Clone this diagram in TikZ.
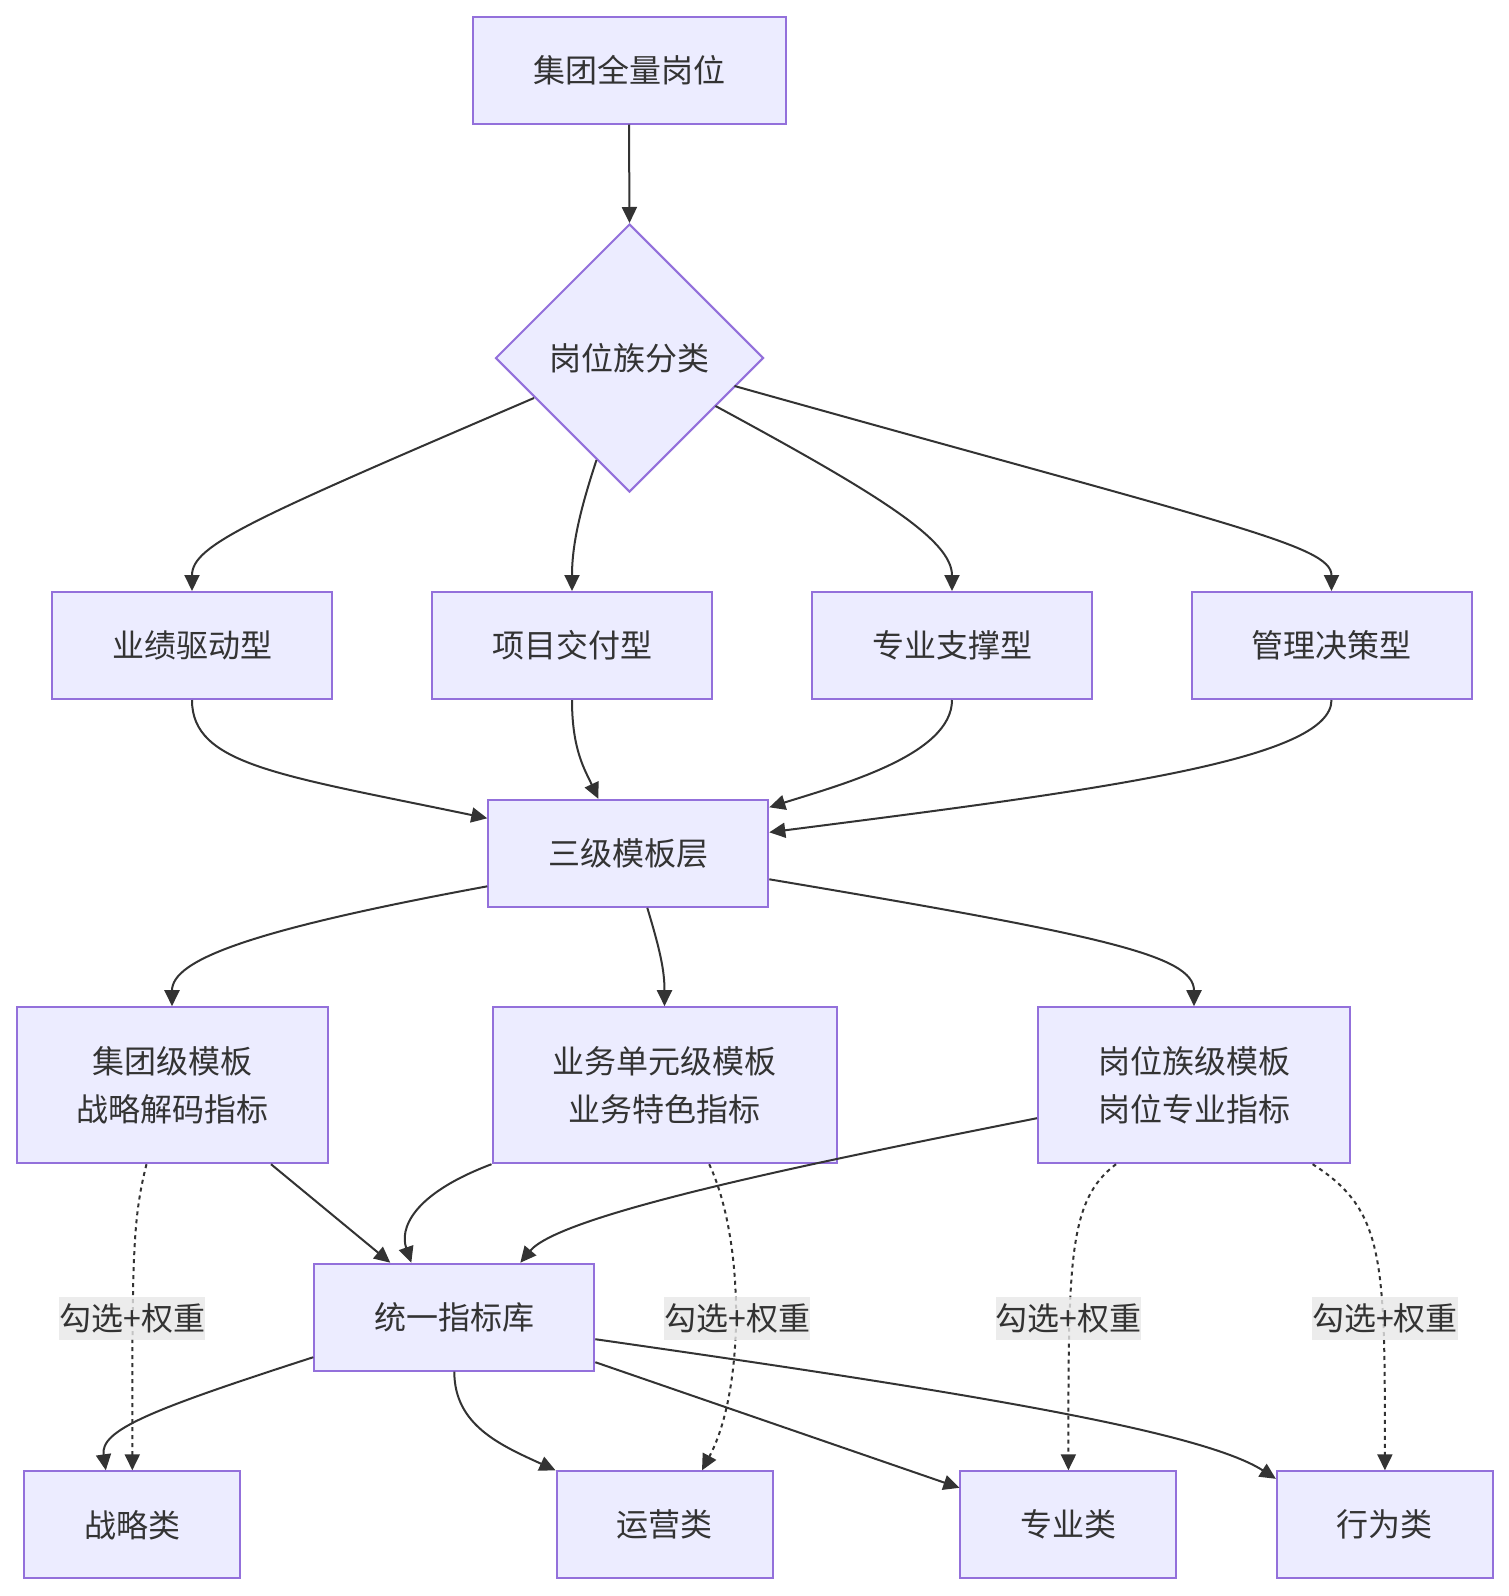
\documentclass[tikz,border=0pt]{standalone}
\usepackage{fontspec}
\setmainfont{Noto Sans CJK SC}
\usetikzlibrary{arrows.meta,shapes.geometric}
\definecolor{nodefill}{HTML}{ECECFF}
\definecolor{nodeline}{HTML}{9370DB}
\definecolor{edgecol}{HTML}{333333}
\definecolor{lblbg}{HTML}{E8E8E8}
\begin{document}
\begin{tikzpicture}[x=1pt,y=-1pt,
  box/.style={draw=nodeline, fill=nodefill, line width=2pt, text=edgecol,
    font=\fontsize{32}{48}\selectfont, align=center, inner sep=0pt, minimum height=107pt},
  tallbox/.style={box, minimum height=156pt},
  dia/.style={diamond, aspect=1, draw=nodeline, fill=nodefill, line width=2pt, text=edgecol,
    font=\fontsize{32}{48}\selectfont, inner sep=0pt, minimum width=268pt, minimum height=268pt},
  edge/.style={draw=edgecol, line width=2pt, -{Triangle[length=16pt,width=15pt]}},
  dedge/.style={edge, dash pattern=on 4pt off 4pt},
  lbl/.style={fill=lblbg, fill opacity=0.8, text opacity=1, text=edgecol,
    font=\fontsize{32}{48}\selectfont, inner xsep=0pt, inner ysep=0pt, minimum height=43pt}
]
\fill[white] (0,0) rectangle (1508,1596);
\useasboundingbox (0,0) rectangle (1508,1596);

% nodes
\node[box, minimum width=313pt] (top) at (629,70) {集团全量岗位};
\node[dia] (cls) at (629.5,358) {岗位族分类};
\node[box, minimum width=280pt] (r1) at (192,645.5) {业绩驱动型};
\node[box, minimum width=280pt] (r2) at (572,645.5) {项目交付型};
\node[box, minimum width=280pt] (r3) at (952,645.5) {专业支撑型};
\node[box, minimum width=280pt] (r4) at (1331.5,645.5) {管理决策型};
\node[box, minimum width=280pt] (tpl) at (628.3,853.3) {三级模板层};
\node[tallbox, minimum width=311pt] (g1) at (172,1085.2) {集团级模板\\战略解码指标};
\node[tallbox, minimum width=344pt] (g2) at (664.5,1085.2) {业务单元级模板\\业务特色指标};
\node[tallbox, minimum width=312pt] (g3) at (1194,1085.2) {岗位族级模板\\岗位专业指标};
\node[box, minimum width=280pt] (lib) at (454.3,1317.2) {统一指标库};
\node[box, minimum width=216pt] (c1) at (132.3,1524.8) {战略类};
\node[box, minimum width=216pt] (c2) at (664.5,1524.8) {运营类};
\node[box, minimum width=216pt] (c3) at (1068.4,1524.8) {专业类};
\node[box, minimum width=216pt] (c4) at (1384.9,1524.8) {行为类};

% edges
\draw[edge] (top.south) -- (cls.north);
\draw[edge] ([xshift=-95.5pt,yshift=-40pt]cls.center) .. controls (250,520) and (192,545) .. (r1.north);
\draw[edge] ([xshift=-33pt,yshift=-102pt]cls.center) .. controls (580,510) and (572,545) .. (r2.north);
\draw[edge] ([xshift=86pt,yshift=-48pt]cls.center) .. controls (880,495) and (952,540) .. (r3.north);
\draw[edge] ([xshift=105pt,yshift=-28pt]cls.center) .. controls (1230,525) and (1331.5,545) .. (r4.north);

\draw[edge] (r1.south) .. controls (192,765) and (280,775) .. ([yshift=35pt]tpl.west);
\draw[edge] (r2.south) .. controls (572,750) and (585,770) .. ([xshift=-30pt]tpl.north);
\draw[edge] (r3.south) .. controls (952,755) and (840,785) .. ([yshift=46pt]tpl.east);
\draw[edge] (r4.south) .. controls (1331.5,760) and (1100,790) .. ([yshift=21pt]tpl.east);

\draw[edge] ([yshift=-33pt]tpl.west) .. controls (250,930) and (172,960) .. (g1.north);
\draw[edge] ([xshift=19pt]tpl.south) .. controls (660,950) and (664.5,970) .. (g2.north);
\draw[edge] ([yshift=-26pt]tpl.east) .. controls (1100,935) and (1194,955) .. (g3.north);

\draw[edge] ([xshift=99pt]g1.south) -- ([xshift=-64pt]lib.north);
\draw[edge] (g2.south west) .. controls (410,1195) and (400,1230) .. ([xshift=-43pt]lib.north);
\draw[edge] ([yshift=-33pt]g3.west) .. controls (800,1165) and (560,1215) .. ([xshift=66pt]lib.north);

\draw[dedge] ([xshift=-25.5pt]g1.south) .. controls (132.3,1220) and (132.3,1260) .. (c1.north);
\draw[dedge] ([xshift=44.7pt]g2.south) .. controls (745,1240) and (745,1390) .. ([xshift=37.5pt]c2.north);
\draw[dedge] ([xshift=-78pt]g3.south) .. controls (1068.4,1200) and (1068.4,1260) .. (c3.north);
\draw[dedge] ([xshift=118.6pt]g3.south) .. controls (1384.9,1210) and (1384.9,1260) .. (c4.north);

\draw[edge] ([yshift=-40pt]lib.west) .. controls (150,1410) and (100,1430) .. ([xshift=-26.5pt]c1.north);
\draw[edge] (lib.south) .. controls (454.3,1425) and (500,1445) .. (c2.north west);
\draw[edge] ([yshift=-45pt]lib.east) -- ([yshift=37pt]c3.west);
\draw[edge] ([yshift=-22pt]lib.east) .. controls (950,1390) and (1200,1430) .. ([yshift=46pt]c4.west);

% labels
\node[lbl] (l1) at (132.3,1318) {勾选+权重};
\node[lbl] (l2) at (737.2,1318) {勾选+权重};
\node[lbl] (l3) at (1068.4,1318) {勾选+权重};
\node[lbl] (l4) at (1384.9,1318) {勾选+权重};
\end{tikzpicture}
\end{document}
